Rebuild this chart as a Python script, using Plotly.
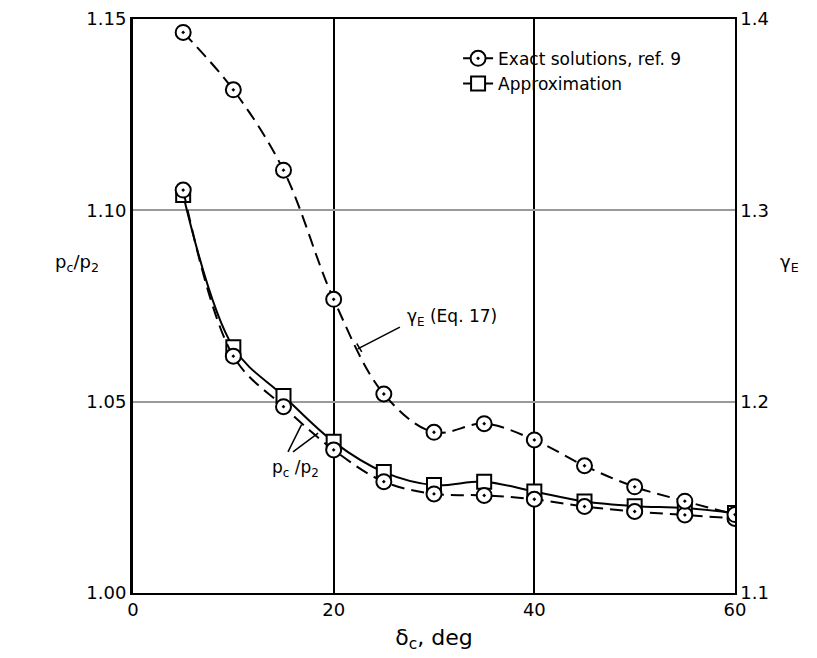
import plotly.graph_objects as go

# ---- data ----
delta_c = [5, 10, 15, 20, 25, 30, 35, 40, 45, 50, 55, 60]
gamma_exact = [1.393, 1.363, 1.321, 1.2535, 1.204, 1.184, 1.1885, 1.180, 1.1665, 1.1555, 1.148, 1.141]
p_exact = [1.1053, 1.0619, 1.0487, 1.0374, 1.0291, 1.0259, 1.0255, 1.0245, 1.0226, 1.0213, 1.0204, 1.0195]
p_approx = [1.1040, 1.0642, 1.0515, 1.0395, 1.0316, 1.0282, 1.0291, 1.0265, 1.0239, 1.0227, 1.0222, 1.0209]

x_ticks = [0, 20, 40, 60]
y_left_ticks = [1.00, 1.05, 1.10, 1.15]
y_left_labels = ["1.00", "1.05", "1.10", "1.15"]
y_right_ticks = [1.1, 1.2, 1.3, 1.4]
y_right_labels = ["1.1", "1.2", "1.3", "1.4"]

FONT = "DejaVu Sans"
DASH = "13px,7px"

circle_marker = dict(symbol="circle-dot", size=15, color="white",
                     line=dict(color="black", width=2))
square_marker = dict(symbol="square", size=14, color="white",
                     line=dict(color="black", width=2))

fig = go.Figure()

fig.add_trace(go.Scatter(
    x=delta_c, y=p_approx, mode="lines+markers", name="Approximation",
    line=dict(color="black", width=2, shape="spline", smoothing=1.0),
    marker=square_marker, legendrank=2))

fig.add_trace(go.Scatter(
    x=delta_c, y=p_exact, mode="lines+markers", name="Exact solutions, ref. 9",
    line=dict(color="black", width=2, dash=DASH, shape="spline", smoothing=1.0),
    marker=circle_marker, legendrank=1))

fig.add_trace(go.Scatter(
    x=delta_c, y=gamma_exact, mode="lines+markers", name="γE exact",
    line=dict(color="black", width=2, dash=DASH, shape="spline", smoothing=1.0),
    marker=circle_marker, yaxis="y2", showlegend=False))

fig.update_layout(
    width=809, height=650,
    margin=dict(l=125, r=82, t=11, b=65),
    paper_bgcolor="white", plot_bgcolor="white",
    font=dict(family=FONT, size=18, color="black"),
    showlegend=True,
    legend=dict(x=0.54, y=0.962, xanchor="left", yanchor="top",
                bgcolor="rgba(255,255,255,0)", borderwidth=0,
                font=dict(size=17), tracegroupgap=0),
    xaxis=dict(range=[0, 60], tickvals=x_ticks, ticks="", showgrid=True,
               gridcolor="black", gridwidth=1.5, zeroline=False,
               showline=True, linecolor="black", linewidth=1.5, mirror=True,
               title=dict(text="δ<sub>c</sub>, deg", standoff=10),
               tickfont=dict(size=18), automargin=False),
    yaxis=dict(range=[1.0, 1.15], tickvals=y_left_ticks, ticktext=y_left_labels,
               ticks="", showgrid=True, gridcolor="#9a9a9a", gridwidth=1.5,
               zeroline=False, showline=True, linecolor="black", linewidth=3,
               tickfont=dict(size=18), automargin=False),
    yaxis2=dict(range=[1.1, 1.4], tickvals=y_right_ticks, ticktext=y_right_labels,
                overlaying="y", side="right", ticks="", showgrid=False,
                zeroline=False, showline=True, linecolor="black", linewidth=1.5,
                tickfont=dict(size=18), automargin=False),
)

annotations = [
    dict(text="p<sub>c</sub>/p<sub>2</sub>", xref="paper", yref="paper",
         x=-0.093, y=0.575, showarrow=False, font=dict(size=18), xanchor="center"),
    dict(text="γ<sub>E</sub>", xref="paper", yref="paper",
         x=1.091, y=0.575, showarrow=False, font=dict(size=18), xanchor="center"),
    dict(text="γ<sub>E</sub> (Eq. 17)", xref="x", yref="y",
         x=27.1, y=1.0719, showarrow=False, xanchor="left", font=dict(size=17)),
    dict(text="p<sub>c</sub> /p<sub>2</sub>", xref="x", yref="y",
         x=16.2, y=1.0325, showarrow=False, font=dict(size=17)),
]
fig.update_layout(annotations=annotations)

shapes = [
    # leader for gamma label, with end tick
    dict(type="line", xref="x", yref="y", x0=26.6, y0=1.0695, x1=22.4, y1=1.0638,
         line=dict(color="black", width=1.5)),
    dict(type="line", xref="x", yref="y", x0=22.3, y0=1.0652, x1=22.8, y1=1.0630,
         line=dict(color="black", width=1.5)),
    # leaders for p_c/p_2 label
    dict(type="line", xref="x", yref="y", x0=15.45, y0=1.0369, x1=16.8, y1=1.0440,
         line=dict(color="black", width=1.5)),
    dict(type="line", xref="x", yref="y", x0=15.95, y0=1.0369, x1=18.45, y1=1.0418,
         line=dict(color="black", width=1.5)),
]
fig.update_layout(shapes=shapes)

fig.write_html("out.html")
